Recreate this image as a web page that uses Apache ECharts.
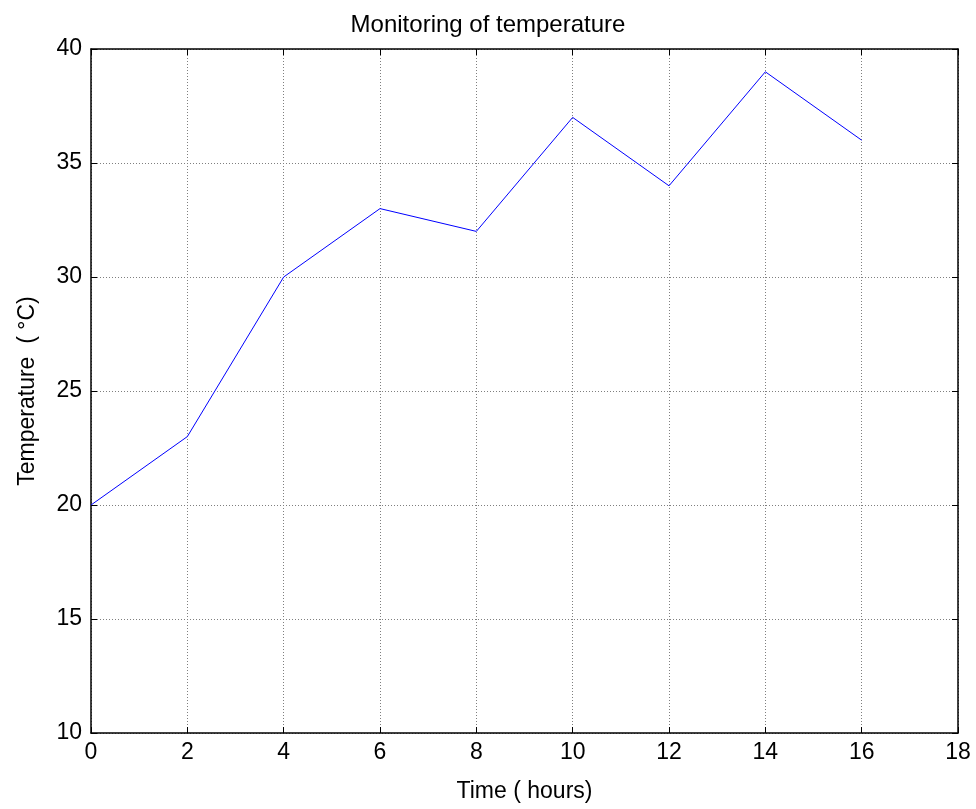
<!DOCTYPE html>
<html>
<head>
<meta charset="utf-8">
<script src="https://cdn.jsdelivr.net/npm/echarts@6/dist/echarts.min.js"></script>
<style>
  html, body { margin: 0; padding: 0; background: #fff; }
  #chart { width: 976px; height: 809px; }
</style>
</head>
<body>
<div id="chart"></div>
<script>
// Hourly temperature readings
const hours = [0, 2, 4, 6, 8, 10, 12, 14, 16];
const temperature = [20, 23, 30, 33, 32, 37, 34, 39, 36];

const xTicks = { min: 0, max: 18, interval: 2 };
const yTicks = { min: 10, max: 40, interval: 5 };

const font = 'Liberation Sans, Arial, sans-serif';
const textSize = 23;

const chart = echarts.init(document.getElementById('chart'), null, { renderer: 'canvas' });

const boxLine = { show: true, onZero: false, lineStyle: { color: '#000', width: 1.5 } };
const innerTicks = { show: true, inside: true, length: 6, lineStyle: { color: '#000', width: 1 } };
const dottedGrid = { show: true, lineStyle: { color: '#7f7f7f', type: [1, 2], width: 1 } };

chart.setOption({
  animation: false,
  backgroundColor: '#fff',
  title: {
    text: 'Monitoring of temperature',
    left: 'center',
    top: 8,
    textStyle: { fontFamily: font, fontSize: 24, fontWeight: 'normal', color: '#000' }
  },
  grid: { left: 91, right: 18, top: 49, bottom: 76, containLabel: false },
  xAxis: [
    {
      type: 'value', position: 'bottom',
      min: xTicks.min, max: xTicks.max, interval: xTicks.interval,
      name: 'Time ( hours)', nameLocation: 'middle', nameGap: 47,
      nameTextStyle: { fontFamily: font, fontSize: textSize, color: '#000' },
      axisLine: boxLine, axisTick: innerTicks, splitLine: dottedGrid,
      axisLabel: { fontFamily: font, fontSize: textSize, color: '#000', margin: 8 }
    },
    {
      type: 'value', position: 'top',
      min: xTicks.min, max: xTicks.max, interval: xTicks.interval,
      axisLine: boxLine, axisTick: innerTicks, splitLine: { show: false },
      axisLabel: { show: false }
    }
  ],
  yAxis: [
    {
      type: 'value', position: 'left',
      min: yTicks.min, max: yTicks.max, interval: yTicks.interval,
      name: 'Temperature  ( °C)', nameLocation: 'middle', nameGap: 52,
      nameTextStyle: { fontFamily: font, fontSize: textSize, color: '#000' },
      axisLine: boxLine, axisTick: innerTicks, splitLine: dottedGrid,
      axisLabel: { fontFamily: font, fontSize: textSize, color: '#000', margin: 9 }
    },
    {
      type: 'value', position: 'right',
      min: yTicks.min, max: yTicks.max, interval: yTicks.interval,
      axisLine: boxLine, axisTick: innerTicks, splitLine: { show: false },
      axisLabel: { show: false }
    }
  ],
  series: [
    {
      type: 'line',
      xAxisIndex: 0, yAxisIndex: 0,
      data: hours.map((h, i) => [h, temperature[i]]),
      showSymbol: false,
      lineStyle: { color: '#0000ff', width: 1 },
      itemStyle: { color: '#0000ff' }
    }
  ]
});
</script>
</body>
</html>
